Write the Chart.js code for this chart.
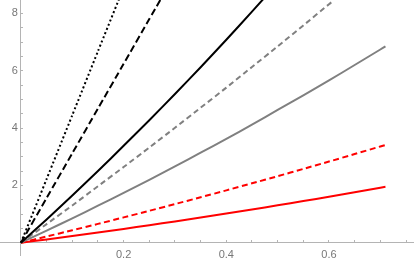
<!DOCTYPE html>
<html>
<head>
<meta charset="utf-8">
<script src="https://cdn.jsdelivr.net/npm/chart.js@4"></script>
<style>
  html, body { margin: 0; padding: 0; background: #fff; }
  #wrap { width: 415px; height: 261px; }
</style>
</head>
<body>
<div id="wrap"><canvas id="plot" width="415" height="261"></canvas></div>
<script>
// x samples
const xs = [0, 0.05, 0.1, 0.15, 0.2, 0.25, 0.3, 0.35, 0.4, 0.45, 0.5, 0.55, 0.6, 0.65, 0.7, 0.71];

const blackDotted = [0, 2.22, 4.45, 6.68, 8.9, 11.2];
const blackDashed = [0, 1.56, 3.12, 4.68, 6.24, 7.8, 9.36];
const blackSolid = [0, 0.81, 1.65, 2.5, 3.38, 4.27, 5.19, 6.12, 7.08, 8.06, 9.06];
const grayDashedX = [0, 0.05, 0.1, 0.15, 0.2, 0.25, 0.3, 0.35, 0.4, 0.45, 0.5, 0.55, 0.6, 0.607];
const grayDashed = [0, 0.65, 1.3, 1.97, 2.64, 3.32, 4.01, 4.71, 5.41, 6.13, 6.85, 7.58, 8.32, 8.42];
const graySolid = [0, 0.42, 0.85, 1.29, 1.74, 2.19, 2.66, 3.14, 3.62, 4.12, 4.63, 5.14, 5.66, 6.2, 6.74, 6.85];
const redDashed = [0, 0.215, 0.434, 0.656, 0.883, 1.113, 1.347, 1.585, 1.826, 2.072, 2.32, 2.574, 2.831, 3.092, 3.357, 3.41];
const redSolid = [0, 0.115, 0.234, 0.356, 0.481, 0.61, 0.742, 0.877, 1.016, 1.158, 1.303, 1.452, 1.604, 1.76, 1.919, 1.95];

const xLabels = [0.2, 0.4, 0.6];
const yLabels = [2, 4, 6, 8];

function pts(xv, yv) {
    return yv.map((y, i) => ({x: xv[i], y: y}));
}

function series(xv, yv, color, dash, width) {
    return {
        data: pts(xv, yv),
        borderColor: color,
        borderWidth: width,
        borderDash: dash,
        pointRadius: 0,
        tension: 0.2,
        fill: false
    };
}

const axisColor = '#b4b4b4';
const labelColor = '#777777';

new Chart(document.getElementById('plot'), {
    type: 'line',
    data: {
        datasets: [
            series(xs, blackDotted, '#000000', [2, 2.5], 2),
            series(xs, blackDashed, '#000000', [7, 3.5], 2),
            series(xs, blackSolid, '#000000', [], 2),
            series(grayDashedX, grayDashed, '#808080', [5.5, 3.5], 2),
            series(xs, graySolid, '#808080', [], 2),
            series(xs, redDashed, '#ff0000', [6, 3.5], 2),
            series(xs, redSolid, '#ff0000', [], 2)
        ]
    },
    options: {
        responsive: false,
        animation: false,
        layout: {
            autoPadding: false,
            padding: {left: 0, right: 0, top: 0, bottom: 6}
        },
        plugins: {
            legend: {display: false},
            tooltip: {enabled: false}
        },
        scales: {
            x: {
                type: 'linear',
                position: {y: 0},
                min: -0.0408,
                max: 0.765,
                border: {display: true, color: axisColor, width: 1},
                grid: {
                    drawOnChartArea: false,
                    drawTicks: true,
                    tickLength: -3,
                    tickColor: axisColor
                },
                ticks: {
                    stepSize: 0.05,
                    autoSkip: false,
                    maxRotation: 0,
                    includeBounds: false,
                    padding: 9,
                    color: labelColor,
                    font: {family: 'Liberation Sans', size: 11},
                    callback: (v) => {
                        const hit = xLabels.find(t => Math.abs(t - v) < 1e-6);
                        return hit !== undefined ? hit.toFixed(1) : '';
                    }
                }
            },
            y: {
                type: 'linear',
                position: {x: 0},
                min: -0.429,
                max: 8.465,
                border: {display: true, color: axisColor, width: 1},
                grid: {
                    drawOnChartArea: false,
                    drawTicks: true,
                    tickLength: -3,
                    tickColor: axisColor
                },
                ticks: {
                    stepSize: 0.5,
                    autoSkip: false,
                    includeBounds: false,
                    padding: 0,
                    color: labelColor,
                    font: {family: 'Liberation Sans', size: 11, lineHeight: 0.01},
                    callback: (v) => {
                        const hit = yLabels.find(t => Math.abs(t - v) < 1e-6);
                        return hit !== undefined ? hit + ' ' : '';
                    }
                }
            }
        }
    }
});
</script>
</body>
</html>
